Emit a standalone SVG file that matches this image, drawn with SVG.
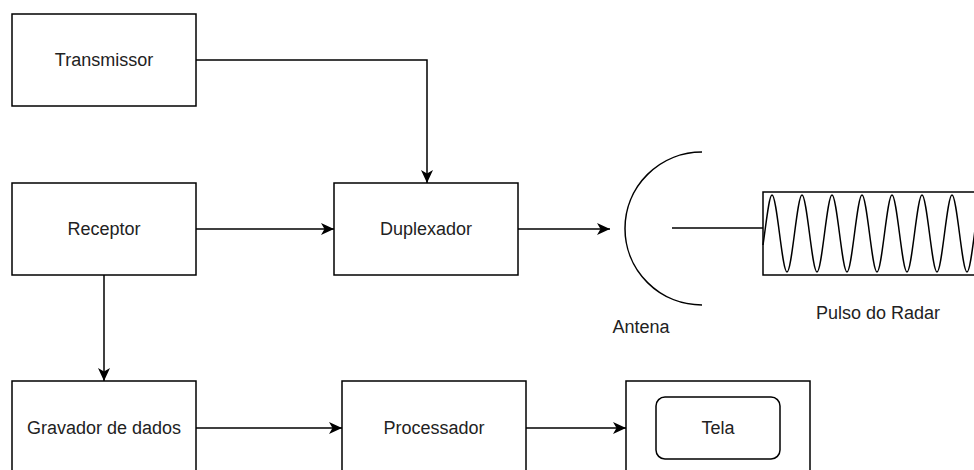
<svg xmlns="http://www.w3.org/2000/svg" width="974" height="470" viewBox="0 0 974 470">
<style>
.box{fill:#fff;stroke:#000;stroke-width:1.5}
.lbl{font-family:"Liberation Sans",Arial,sans-serif;font-size:18px;fill:#222;text-anchor:middle;dominant-baseline:central}
.edge{fill:none;stroke:#000;stroke-width:1.5}
</style>
<defs>
<marker id="arr" markerWidth="14" markerHeight="12" refX="13" refY="6" orient="auto" markerUnits="userSpaceOnUse">
<path d="M0,0 L13,6 L0,12 L3.5,6 z" fill="#000"/>
</marker>
</defs>
<rect width="974" height="470" fill="#fff"/>
<g id="connectors">
<path class="edge" d="M196,60 H427 V183" marker-end="url(#arr)"/>
<path class="edge" d="M196,229 H334" marker-end="url(#arr)"/>
<path class="edge" d="M104,275 V381" marker-end="url(#arr)"/>
<path class="edge" d="M518,229 H610" marker-end="url(#arr)"/>
<path class="edge" d="M196,428 H342" marker-end="url(#arr)"/>
<path class="edge" d="M526,428 H626" marker-end="url(#arr)"/>
<path class="edge" d="M672,228 H763"/>
</g>
<g id="transmissor"><rect class="box" x="12" y="14" width="184" height="92"/><text class="lbl" x="104" y="60">Transmissor</text></g>
<g id="receptor"><rect class="box" x="12" y="183" width="184" height="92"/><text class="lbl" x="104" y="229">Receptor</text></g>
<g id="duplexador"><rect class="box" x="334" y="183" width="184" height="92"/><text class="lbl" x="426" y="229">Duplexador</text></g>
<g id="gravador"><rect class="box" x="12" y="381" width="184" height="100"/><text class="lbl" x="104" y="428">Gravador de dados</text></g>
<g id="processador"><rect class="box" x="342" y="381" width="184" height="100"/><text class="lbl" x="434" y="428">Processador</text></g>
<g id="tela-box"><rect class="box" x="626" y="381" width="184" height="100"/><rect class="box" x="656" y="397" width="124" height="62" rx="9"/><text class="lbl" x="718" y="428">Tela</text></g>
<g id="antena"><path class="edge" d="M702,152 A77,76.5 0 0 0 702,305"/><text class="lbl" x="641" y="327">Antena</text></g>
<g id="pulso">
<rect class="box" x="763" y="192" width="230" height="83"/>
<path class="edge" d="M763,245 C766,225 769,195 772,195 C777,195 782,272 787,272 C792,272 797,195 802,195 C807,195 812,272 817,272 C822,272 827,195 832,195 C837,195 842,272 847,272 C852,272 857,195 862,195 C867,195 872,272 877,272 C882,272 887,195 892,195 C897,195 902,272 907,272 C912,272 917,195 922,195 C927,195 932,272 937,272 C942,272 947,195 952,195 C957,195 962,272 967,272 C972,272 977,195 982,195"/>
<text class="lbl" x="878" y="313">Pulso do Radar</text>
</g>
</svg>
